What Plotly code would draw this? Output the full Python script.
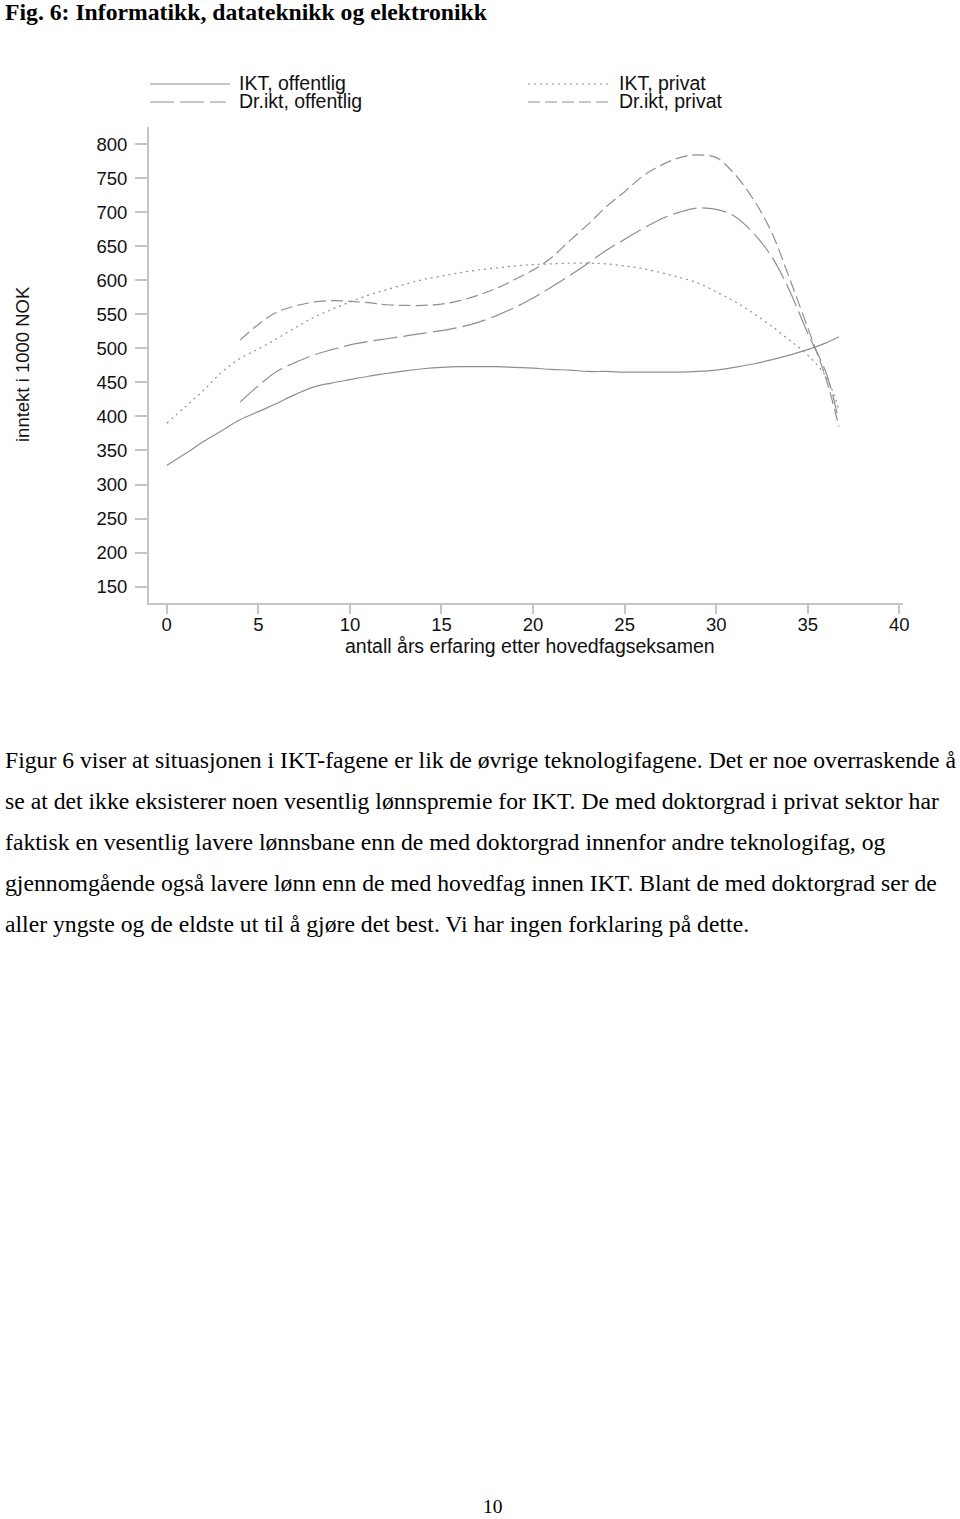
import plotly.graph_objects as go

# ---------------- data ----------------
x_ikt_off = [0, 1, 2, 3, 4, 5, 6, 7, 8, 9, 10, 11, 12, 13, 14, 15, 16, 17, 18, 19, 20,
             21, 22, 23, 24, 25, 26, 27, 28, 29, 30, 31, 32, 33, 34, 35, 36, 36.7]
y_ikt_off = [328, 345, 363, 379, 395, 407, 419, 432, 443, 449, 454, 459, 463, 467, 470, 472,
             473, 473, 473, 472, 471, 469, 468, 466, 466, 465, 465, 465, 465, 466, 468, 472,
             477, 483, 490, 498, 508, 517]

x_ikt_priv = [0, 1, 2, 3, 4, 5, 6, 7, 8, 9, 10, 11, 12, 13, 14, 15, 16, 17, 18, 19, 20,
              21, 22, 23, 24, 25, 26, 27, 28, 29, 30, 31, 32, 33, 34, 35, 36, 36.7]
y_ikt_priv = [390, 414, 438, 465, 485, 499, 514, 530, 545, 557, 568, 578, 586, 594, 601, 606,
              611, 615, 618, 621, 623, 624, 625, 625, 624, 621, 617, 611, 604, 596, 583, 569,
              552, 533, 512, 490, 458, 410]

x_dr_off = [4, 5, 6, 7, 8, 9, 10, 11, 12, 13, 14, 15, 16, 17, 18, 19, 20, 21, 22, 23, 24,
            25, 26, 27, 28, 29, 30, 31, 32, 33, 34, 35, 36, 36.6]
y_dr_off = [421, 445, 466, 479, 490, 498, 505, 510, 514, 518, 522, 526, 531, 538, 548, 560,
            574, 590, 607, 625, 644, 660, 676, 690, 700, 706, 704, 694, 670, 636, 585, 522,
            464, 405]

x_dr_priv = [4, 5, 6, 7, 8, 9, 10, 11, 12, 13, 14, 15, 16, 17, 18, 19, 20, 21, 22, 23, 24,
             25, 26, 27, 28, 29, 30, 31, 32, 33, 34, 35, 36, 36.7]
y_dr_priv = [512, 535, 553, 562, 568, 570, 569, 567, 564, 563, 563, 565, 570, 578, 588, 601,
             615, 633, 658, 682, 708, 730, 753, 769, 780, 784, 780, 756, 720, 672, 603, 530,
             455, 385]

series_names = ["IKT, offentlig", "IKT, privat", "Dr.ikt, offentlig", "Dr.ikt, privat"]
x_ticks = [0, 5, 10, 15, 20, 25, 30, 35, 40]
y_ticks = [150, 200, 250, 300, 350, 400, 450, 500, 550, 600, 650, 700, 750, 800]

title_text = "Fig. 6: Informatikk, datateknikk og elektronikk"
y_title = "inntekt i 1000 NOK"
x_title = "antall års erfaring etter hovedfagseksamen"
paragraph = [
    "Figur 6 viser at situasjonen i IKT-fagene er lik de øvrige teknologifagene. Det er noe overraskende å",
    "se at det ikke eksisterer noen vesentlig lønnspremie for IKT. De med doktorgrad i privat sektor har",
    "faktisk en vesentlig lavere lønnsbane enn de med doktorgrad innenfor andre teknologifag, og",
    "gjennomgående også lavere lønn enn de med hovedfag innen IKT. Blant de med doktorgrad ser de",
    "aller yngste og de eldste ut til å gjøre det best. Vi har ingen forklaring på dette.",
]
page_number = "10"

# ---------------- styles ----------------
LINE_COL = "#8f8f8f"
AXIS_COL = "#c4c4c4"
dashes = ["solid", "2px,4px", "24px,6px", "12px,5px"]

W, H = 960, 1519
L, R, T, B = 149, 57, 127, 916
PW, PH = W - L - R, H - T - B


def px_x(px):
    return (px - L) / PW


def px_y(py):
    return (H - B - py) / PH


fig = go.Figure()
for xs, ys, name, d in zip([x_ikt_off, x_ikt_priv, x_dr_off, x_dr_priv],
                           [y_ikt_off, y_ikt_priv, y_dr_off, y_dr_priv],
                           series_names, dashes):
    fig.add_trace(go.Scatter(x=xs, y=ys, mode="lines", name=name, showlegend=False,
                             line=dict(color=LINE_COL, width=1.2, dash=d, shape="spline")))

sans = "Liberation Sans, Arial, sans-serif"
serif = "Liberation Serif, Times New Roman, serif"

fig.update_layout(
    width=W, height=H,
    margin=dict(l=L, r=R, t=T, b=B),
    paper_bgcolor="white", plot_bgcolor="white",
    font=dict(family=sans, size=18.5, color="#111"),
    xaxis=dict(range=[-0.97, 40.2], tickvals=x_ticks, ticks="outside", ticklen=9,
               tickcolor=AXIS_COL, tickwidth=1.5, showline=True, linecolor=AXIS_COL,
               linewidth=2, showgrid=False, zeroline=False, ticklabelstandoff=-5,
               tickfont=dict(family=sans, size=18.5, color="#111")),
    yaxis=dict(range=[126, 825], tickvals=y_ticks, ticks="outside", ticklen=12,
               tickcolor=AXIS_COL, tickwidth=1.5, showline=True, linecolor=AXIS_COL,
               linewidth=2, showgrid=False, zeroline=False, ticklabelstandoff=4,
               tickfont=dict(family=sans, size=18.5, color="#111")),
)

ann = []
shapes = []
# title
ann.append(dict(text="<b>" + title_text + "</b>", x=px_x(3), y=px_y(12), xref="paper", yref="paper",
                xanchor="left", yanchor="middle", showarrow=False,
                font=dict(family=serif, size=23.7, color="#000")))
# axis titles
ann.append(dict(text=y_title, x=px_x(22), y=px_y(364), xref="paper", yref="paper",
                xanchor="center", yanchor="middle", showarrow=False, textangle=-90,
                font=dict(family=sans, size=18.5, color="#111")))
ann.append(dict(text=x_title, x=px_x(530), y=px_y(646), xref="paper", yref="paper",
                xanchor="center", yanchor="middle", showarrow=False,
                font=dict(family=sans, size=19.5, color="#111")))

# legend (manual, two columns)
leg_pos = [(150, 230, 237, 84), (528, 610, 617, 84), (150, 226, 237, 102), (528, 610, 617, 102)]
for (x0, x1, tx, yy), name, d in zip(leg_pos, series_names, dashes):
    shapes.append(dict(type="line", xref="paper", yref="paper", x0=px_x(x0), x1=px_x(x1),
                       y0=px_y(yy), y1=px_y(yy), line=dict(color=LINE_COL, width=1.2, dash=d)))
    ann.append(dict(text=name, x=px_x(tx), y=px_y(yy - 1), xref="paper", yref="paper",
                    xanchor="left", yanchor="middle", showarrow=False,
                    font=dict(family=sans, size=19.5, color="#111")))

# paragraph
for i, line in enumerate(paragraph):
    ann.append(dict(text=line, x=px_x(3), y=px_y(760 + 41 * i), xref="paper", yref="paper",
                    xanchor="left", yanchor="middle", showarrow=False,
                    font=dict(family=serif, size=23.7, color="#000")))
# page number
ann.append(dict(text=page_number, x=px_x(493), y=px_y(1506), xref="paper", yref="paper",
                xanchor="center", yanchor="middle", showarrow=False,
                font=dict(family=serif, size=19.5, color="#000")))

fig.update_layout(annotations=ann, shapes=shapes)
fig.write_html("out.html")
